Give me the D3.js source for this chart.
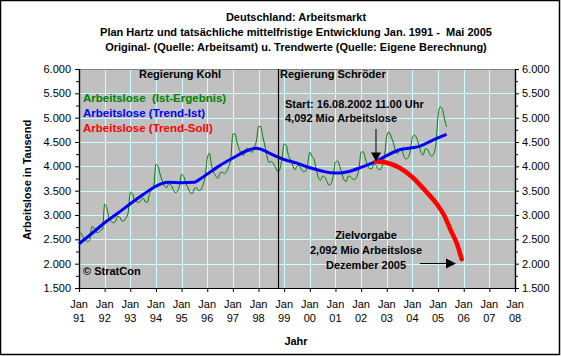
<!DOCTYPE html>
<html><head><meta charset="utf-8">
<script src="https://cdn.jsdelivr.net/npm/d3@7/dist/d3.min.js"></script>
<style>
body{margin:0;background:#fff}
svg{display:block;font-family:"Liberation Sans",Arial,sans-serif}
text{white-space:pre}
</style>
</head><body>
<svg id="c" width="561" height="356"></svg>
<script>
// ---- Data ----
// Monthly unemployment (thousands), Jan 1991 .. May 2005
const istStart = 1991;
const istValues = [
  2660,2620,2540,2490,2450,2480,2760,2740,2650,2640,2680,2700, // 1991
  3220,3150,2950,2880,2840,2860,2970,2960,2880,2880,2940,3050, // 1992
  3460,3440,3300,3270,3260,3300,3350,3270,3260,3440,3510,3600, // 1993
  4040,4000,3830,3700,3600,3560,3640,3620,3530,3460,3480,3600, // 1994
  3840,3790,3650,3560,3460,3440,3540,3560,3500,3520,3620,3790, // 1995
  4160,4270,4030,3880,3800,3750,3860,3880,3850,3890,3990,4150, // 1996
  4660,4670,4480,4350,4260,4220,4350,4370,4310,4290,4390,4520, // 1997
  4820,4820,4610,4420,4190,4080,4100,4050,3970,3890,3940,4170, // 1998
  4460,4430,4220,4140,4020,3930,4000,4020,3940,3890,3900,4050, // 1999
  4290,4210,4140,3940,3770,3710,3800,3780,3690,3610,3650,3810, // 2000
  4090,4110,4000,3860,3720,3690,3800,3790,3740,3730,3790,3960, // 2001
  4290,4300,4160,4020,3950,3950,4050,4020,3940,3930,4030,4230, // 2002
  4620,4710,4610,4500,4340,4260,4350,4350,4210,4150,4180,4320, // 2003
  4600,4640,4580,4440,4290,4230,4360,4350,4260,4210,4260,4460, // 2004
  5040,5220,5180,4970,4810                                     // 2005
];
// Trend-Ist (decimal year, value)
const trendDates  = [1991.0,1991.5,1992.0,1992.5,1993.0,1993.5,1994.0,1994.25,1994.5,1995.0,1995.5,1995.75,1996.0,1996.5,1997.0,1997.5,1997.9,1998.25,1998.5,1999.0,1999.5,2000.0,2000.5,2000.8,2001.2,2001.5,2002.0,2002.58,2003.0,2003.5,2004.0,2004.3,2004.8,2005.33];
const trendValues = [2410,2620,2840,3030,3230,3420,3590,3650,3675,3665,3675,3750,3840,4020,4170,4310,4370,4320,4250,4140,4065,3970,3900,3870,3865,3890,3980,4100,4220,4340,4380,4416,4540,4655];
// Trend-Soll
const sollDates  = [2002.58,2003.0,2003.5,2004.0,2004.5,2005.0,2005.25,2005.5,2005.75,2005.92];
const sollValues = [4100,4075,3970,3775,3500,3190,2980,2680,2390,2092];
// Axes
const yearTicks = [1991,1992,1993,1994,1995,1996,1997,1998,1999,2000,2001,2002,2003,2004,2005,2006,2007,2008];
const yearLabels = ["91","92","93","94","95","96","97","98","99","00","01","02","03","04","05","06","07","08"];
const yTicks = [1500,2000,2500,3000,3500,4000,4500,5000,5500,6000];
const yMinor = [1750,2250,2750,3250,3750,4250,4750,5250,5750];
const titleLines = ["Deutschland: Arbeitsmarkt",
  "Plan Hartz und tatsächliche mittelfristige Entwicklung Jan. 1991 -  Mai 2005",
  "Original- (Quelle: Arbeitsamt) u. Trendwerte (Quelle: Eigene Berechnung)"];
const legendItems = ["Arbeitslose  (Ist-Ergebnis)","Arbeitslose (Trend-Ist)","Arbeitslose (Trend-Soll)"];
const legendColors = ["#008000","#0000ff","#ff0000"];
const regimeChange = 1998.74;

// ---- Layout ----
const L = 79, R = 515, T = 69, B = 288;
const svg = d3.select("#c");
const x = d3.scaleLinear().domain([1991, 2008]).range([L, R]);
const y = d3.scaleLinear().domain([1500, 6000]).range([B, T]);

svg.append("rect").attr("x",0.5).attr("y",0.5).attr("width",559).attr("height",354)
  .attr("fill","#fff").attr("stroke","#000").attr("stroke-width",1.5);

svg.append("rect").attr("x",L).attr("y",T).attr("width",R-L).attr("height",B-T).attr("fill","#c0c0c0");

const g = svg.append("g");
g.selectAll(".vg").data(yearTicks.slice(1,-1)).join("line")
  .attr("x1",d=>Math.round(x(d))+0.5).attr("x2",d=>Math.round(x(d))+0.5).attr("y1",T).attr("y2",B)
  .attr("stroke","#ccffff").attr("stroke-width",1);
g.selectAll(".hg").data(yTicks.slice(1,-1)).join("line")
  .attr("y1",d=>Math.round(y(d))+0.5).attr("y2",d=>Math.round(y(d))+0.5).attr("x1",L).attr("x2",R)
  .attr("stroke","#ccffff").attr("stroke-width",1);
svg.append("line").attr("x1",L).attr("x2",R).attr("y1",T+0.5).attr("y2",T+0.5).attr("stroke","#808080");

// lines
const ist = istValues.map((v,i)=>[istStart + i/12, v]);
const line = d3.line().x(d=>x(d[0])).y(d=>y(d[1]));
svg.append("path").attr("d", line.curve(d3.curveMonotoneX)(ist)).attr("fill","none")
  .attr("stroke","#008000").attr("stroke-width",1);
const trend = trendDates.map((t,i)=>[t, trendValues[i]]);
svg.append("path").attr("d", d3.line().x(d=>x(d[0])).y(d=>y(d[1])).curve(d3.curveMonotoneX)(trend))
  .attr("fill","none").attr("stroke","#0000ff").attr("stroke-width",3);
const soll = sollDates.map((t,i)=>[t, sollValues[i]]);
svg.append("path").attr("d", d3.line().x(d=>x(d[0])).y(d=>y(d[1])).curve(d3.curveMonotoneX)(soll))
  .attr("fill","none").attr("stroke","#ff0000").attr("stroke-width",4.5).attr("stroke-linecap","round");

// regime change line
svg.append("line").attr("x1",Math.round(x(regimeChange))+0.5).attr("x2",Math.round(x(regimeChange))+0.5)
  .attr("y1",T).attr("y2",B).attr("stroke","#000").attr("stroke-width",1.2);

// axes
const fmt = d => d3.format(",")(d).replace(",", ".");
const axL = svg.append("g").attr("transform",`translate(${L},0)`)
  .call(d3.axisLeft(y).tickValues(yTicks).tickSize(4).tickPadding(4).tickFormat(fmt));
svg.append("g").attr("transform",`translate(${L},0)`)
  .call(d3.axisLeft(y).tickValues(yMinor).tickSize(3).tickFormat(""));
const axR = svg.append("g").attr("transform",`translate(${R},0)`)
  .call(d3.axisRight(y).tickValues(yTicks).tickSize(4).tickPadding(3).tickFormat(fmt));
svg.append("g").attr("transform",`translate(${R},0)`)
  .call(d3.axisRight(y).tickValues(yMinor).tickSize(3).tickFormat(""));
const axB = svg.append("g").attr("transform",`translate(0,${B})`)
  .call(d3.axisBottom(x).tickValues(yearTicks).tickSize(4).tickFormat(""));
svg.selectAll(".domain").attr("stroke","#000").attr("stroke-width",1.2);
svg.selectAll(".tick line").attr("stroke","#000");
svg.selectAll(".tick text").attr("font-size",11).attr("font-family","Liberation Sans, Arial").attr("fill","#000");

const xl = svg.append("g").attr("font-size",11).attr("text-anchor","middle");
yearTicks.forEach((t,i)=>{
  xl.append("text").attr("x",x(t)).attr("y",308).text("Jan");
  xl.append("text").attr("x",x(t)).attr("y",322).text(yearLabels[i]);
});

// titles
const tt = svg.append("g").attr("font-size",11).attr("font-weight","bold").attr("text-anchor","middle");
titleLines.forEach((s,i)=>tt.append("text").attr("x",296).attr("y",21+i*15).text(s));

svg.append("text").attr("transform","translate(31,180) rotate(-90)").attr("text-anchor","middle")
  .attr("font-size",11).attr("font-weight","bold").text("Arbeitslose in Tausend");
svg.append("text").attr("x",296).attr("y",345).attr("text-anchor","middle")
  .attr("font-size",11).attr("font-weight","bold").text("Jahr");

// legend
legendItems.forEach((s,i)=>svg.append("text").attr("x",83).attr("y",102+i*15)
  .attr("font-size",11.5).attr("font-weight","bold").attr("fill",legendColors[i]).text(s));

// annotations
const ann = svg.append("g").attr("font-size",11).attr("font-weight","bold");
ann.append("text").attr("x",180).attr("y",78).attr("text-anchor","middle").text("Regierung Kohl");
ann.append("text").attr("x",280).attr("y",78).text("Regierung Schröder");
ann.append("text").attr("x",285).attr("y",108).text("Start: 16.08.2002 11.00 Uhr");
ann.append("text").attr("x",285).attr("y",122).text("4,092 Mio Arbeitslose");
ann.append("text").attr("x",366).attr("y",239).attr("text-anchor","middle").text("Zielvorgabe");
ann.append("text").attr("x",366).attr("y",254).attr("text-anchor","middle").text("2,092 Mio Arbeitslose");
ann.append("text").attr("x",366).attr("y",269).attr("text-anchor","middle").text("Dezember 2005");
ann.append("text").attr("x",83).attr("y",275).text("© StratCon");

// arrows
const sx = x(sollDates[0]), sy = y(sollValues[0]);
svg.append("line").attr("x1",sx).attr("x2",sx).attr("y1",129).attr("y2",sy-8).attr("stroke","#000");
svg.append("path").attr("d",`M${sx-5},${sy-9}L${sx+5},${sy-9}L${sx},${sy}Z`).attr("fill","#000");
svg.append("line").attr("x1",420).attr("x2",447).attr("y1",263.5).attr("y2",263.5).attr("stroke","#000");
svg.append("path").attr("d","M446,258.5L456,263.5L446,268.5Z").attr("fill","#000");
</script>
</body></html>
